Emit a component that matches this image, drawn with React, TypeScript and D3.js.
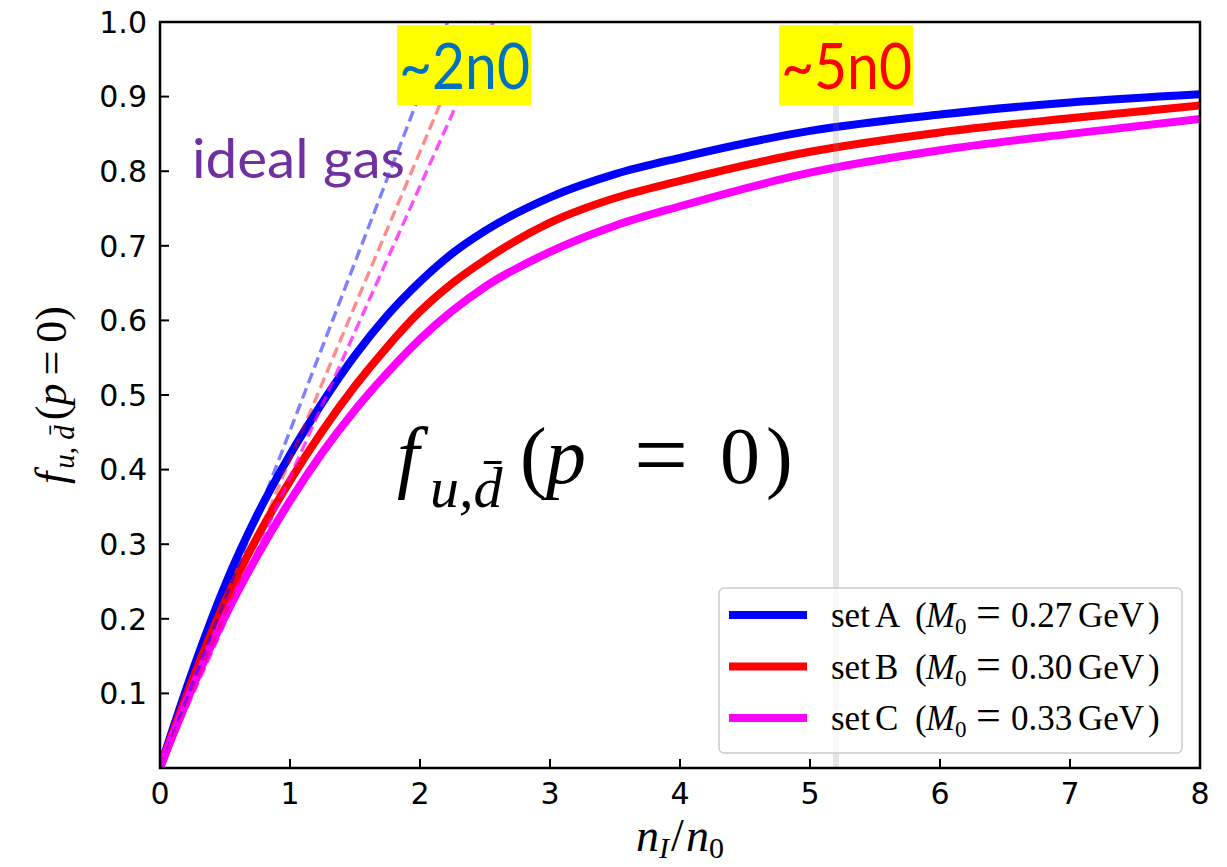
import React from "react";
import * as d3 from "d3";

// n_I / n_0 sample points
const density = [0, 0.25, 0.5, 0.75, 1, 1.25, 1.5, 1.75, 2, 2.25, 2.5, 3, 3.5, 4, 5, 6, 7, 8];
// f_{u,dbar}(p=0) for three parameter sets
const setA = [0, 0.13, 0.245, 0.34, 0.42, 0.49, 0.553, 0.607, 0.652, 0.69, 0.72, 0.765, 0.796, 0.818, 0.854, 0.876, 0.892, 0.903];
const setB = [0, 0.118, 0.223, 0.31, 0.385, 0.452, 0.512, 0.565, 0.612, 0.65, 0.681, 0.731, 0.764, 0.787, 0.826, 0.852, 0.871, 0.888];
const setC = [0, 0.108, 0.203, 0.285, 0.358, 0.423, 0.48, 0.53, 0.575, 0.613, 0.645, 0.692, 0.727, 0.753, 0.798, 0.828, 0.85, 0.87];

// ideal gas (dashed)
const idealX = [0, 0.5, 1, 1.5, 2, 2.5, 3];
const idealA = [0, 0.226, 0.452, 0.678, 0.904, 1.13, 1.356];
const idealB = [0, 0.207, 0.413, 0.62, 0.826, 1.033, 1.24];
const idealC = [0, 0.195, 0.39, 0.585, 0.78, 0.975, 1.17];

const xTicks = [0, 1, 2, 3, 4, 5, 6, 7, 8];
const yTicks = [0.1, 0.2, 0.3, 0.4, 0.5, 0.6, 0.7, 0.8, 0.9, 1.0];

const seriesNames = ["A", "B", "C"];
const seriesMass = ["0.27", "0.30", "0.33"];
const seriesColors = ["#0000ff", "#ff0000", "#ff00ff"];
const idealOpacity = [0.5, 0.45, 0.7];
const markerDensity = 5.2;

const W = 1227;
const H = 867;
const left = 160, right = 1200, top = 22, bottom = 768;

export default function App() {
  const x = d3.scaleLinear().domain([0, 8]).range([left, right]);
  const y = d3.scaleLinear().domain([0, 1]).range([bottom, top]);

  const solid = [setA, setB, setC];
  const ideal = [idealA, idealB, idealC];

  const line = (xs: number[], ys: number[]) =>
    d3.line<number>()
      .x((_, i) => x(xs[i]))
      .y((d) => y(d))
      .curve(d3.curveMonotoneX)(ys) as string;

  const tickFont = "DejaVu Sans, sans-serif";
  const serif = "Liberation Serif, DejaVu Serif, serif";

  return (
    <svg width={W} height={H} style={{ position: "absolute", left: 0, top: 0, background: "#fff" }}>
      <defs>
        <clipPath id="plotclip">
          <rect x={left} y={top} width={right - left} height={bottom - top} />
        </clipPath>
      </defs>
      <rect x={0} y={0} width={W} height={H} fill="#fff" />

      <g clipPath="url(#plotclip)">
        {solid.map((s, i) => (
          <path key={"s" + i} d={line(density, s)} fill="none" stroke={seriesColors[i]} strokeWidth={8} />
        ))}
        {ideal.map((s, i) => (
          <path key={"d" + i} d={line(idealX, s)} fill="none" stroke={seriesColors[i]}
            strokeOpacity={idealOpacity[i]} strokeWidth={3.4} strokeDasharray="11,5.5" />
        ))}
        <line x1={x(markerDensity)} x2={x(markerDensity)} y1={top} y2={bottom}
          stroke="#808080" strokeOpacity={0.2} strokeWidth={6} />
      </g>

      {/* spines */}
      <rect x={left} y={top} width={right - left} height={bottom - top} fill="none" stroke="#000" strokeWidth={2.5} />

      {/* ticks */}
      {xTicks.map((t) => (
        <g key={"xt" + t}>
          {t > 0 && t < 8 && (
            <line x1={x(t)} x2={x(t)} y1={bottom} y2={bottom - 9} stroke="#000" strokeWidth={2} />
          )}
          <text x={x(t)} y={804} textAnchor="middle" fontFamily={tickFont} fontSize={30} fill="#000">{t}</text>
        </g>
      ))}
      {yTicks.map((t) => (
        <g key={"yt" + t}>
          {t < 1 && <line x1={left} x2={left + 9} y1={y(t)} y2={y(t)} stroke="#000" strokeWidth={2} />}
          <text x={147} y={y(t)} dy="0.36em" textAnchor="end" fontFamily={tickFont} fontSize={30} fill="#000">{t.toFixed(1)}</text>
        </g>
      ))}

      {/* axis labels */}
      <text x={680} y={851} textAnchor="middle" fontFamily={serif} fontSize={46} fill="#000">
        <tspan fontStyle="italic">n</tspan>
        <tspan fontStyle="italic" fontSize={30} dy={7}>I</tspan>
        <tspan dy={-7} dx={2}>/</tspan>
        <tspan fontStyle="italic" dx={2}>n</tspan>
        <tspan fontSize={30} dy={7}>0</tspan>
      </text>
      <text transform="translate(66,395) rotate(-90)" textAnchor="middle" fontFamily={serif} fontSize={44} fill="#000">
        <tspan fontStyle="italic">f</tspan>
        <tspan fontStyle="italic" fontSize={29} dy={8} dx={3}>u, d̄</tspan>
        <tspan dy={-8} dx={5}>(</tspan>
        <tspan fontStyle="italic">p</tspan>
        <tspan dx={8}>=</tspan>
        <tspan dx={8}>0)</tspan>
      </text>

      {/* annotations */}
      <text x={192} y={178} fontFamily="Lato, sans-serif" fontSize={54} fill="#7030a0"
        textLength={213} lengthAdjust="spacingAndGlyphs">ideal gas</text>

      <rect x={397} y={25} width={134} height={80} fill="#ffff00" />
      <text x={399} y={89} fontFamily="Lato, sans-serif" fontSize={64} fill="#0070c0"
        textLength={131} lengthAdjust="spacingAndGlyphs">~2n0</text>
      <rect x={779} y={25} width={134} height={80} fill="#ffff00" />
      <text x={781} y={89} fontFamily="Lato, sans-serif" fontSize={64} fill="#ff0000"
        textLength={131} lengthAdjust="spacingAndGlyphs">~5n0</text>

      <text y={483} fontFamily={serif} fontSize={80} fill="#000">
        <tspan x={397} fontStyle="italic">f</tspan>
        <tspan x={430} fontStyle="italic" fontSize={58} dy={24}>u,d̄</tspan>
        <tspan x={520} dy={-24}>(</tspan>
        <tspan x={546} fontStyle="italic">p</tspan>
        <tspan x={634} fontSize={96} dy={4}>=</tspan>
        <tspan x={720} dy={-4}>0</tspan>
        <tspan x={766}>)</tspan>
      </text>

      {/* legend */}
      <rect x={719} y={588} width={463} height={165} rx={5} fill="#fff" fillOpacity={0.8} stroke="#cccccc" strokeWidth={1.5} />
      {seriesNames.map((n, i) => {
        const cy = 615 + i * 51.5;
        return (
          <g key={"lg" + n}>
            <line x1={729} x2={807} y1={cy} y2={cy} stroke={seriesColors[i]} strokeWidth={8} />
            <text y={cy + 12} fontFamily={serif} fontSize={35} fill="#000">
              <tspan x={831}>set</tspan>
              <tspan x={875}>{n}</tspan>
              <tspan x={915}>(</tspan>
              <tspan x={926} fontStyle="italic">M</tspan>
              <tspan x={955} fontSize={23} dy={7}>0</tspan>
              <tspan x={976} dy={-7} fontSize={44} >=</tspan>
              <tspan x={1011}>{seriesMass[i]}</tspan>
              <tspan x={1078}>GeV</tspan>
              <tspan x={1148}>)</tspan>
            </text>
          </g>
        );
      })}
    </svg>
  );
}
